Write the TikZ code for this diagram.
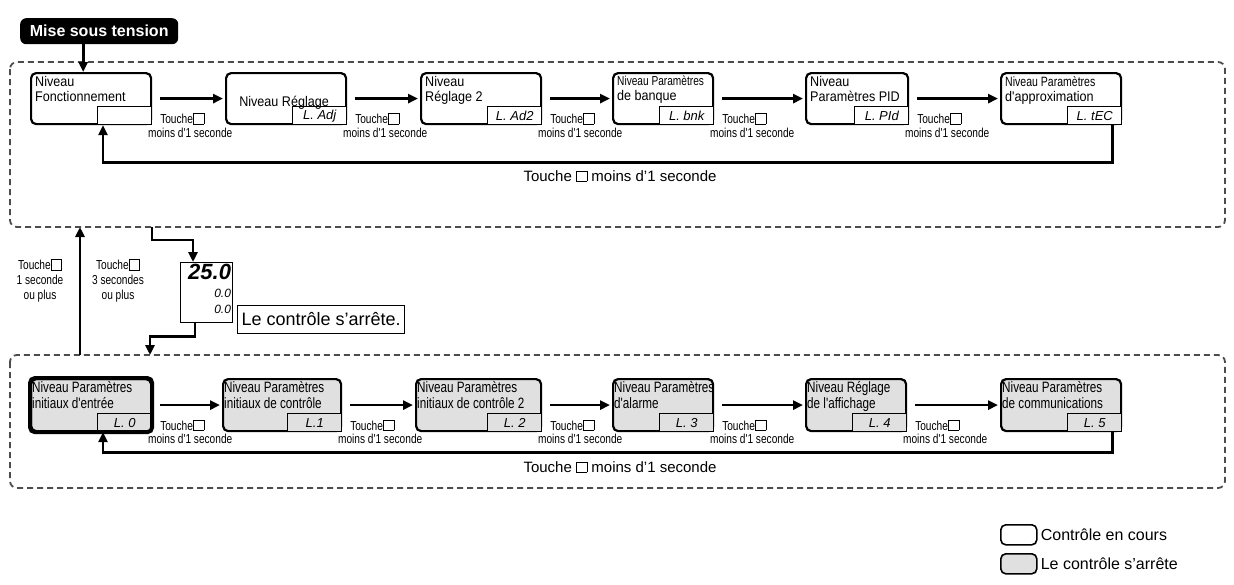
\documentclass[tikz,border=0pt]{standalone}
\usepackage{fontspec}
\setmainfont{Liberation Sans}
\newfontfamily\narrowfont[FakeStretch=0.78]{Liberation Sans}
\newfontfamily\semifont[FakeStretch=0.9]{Liberation Sans}
\usetikzlibrary{arrows.meta}
\newcommand{\keysq}{{\setlength\fboxsep{0pt}\setlength\fboxrule{0.6pt}\fbox{\phantom{\rule{10pt}{10pt}}}}}
\tikzset{
  lvl/.style={draw, line width=2.2pt, rounded corners=5pt, anchor=north west, inner sep=0pt},
  gray lvl/.style={lvl, fill=black!12},
  txt/.style={anchor=north west, align=left, font=\semifont\fontsize{14}{15}\selectfont, inner sep=1pt},
  disp/.style={draw, line width=0.9pt, anchor=south east, minimum width=54pt, minimum height=18pt, inner sep=1pt, font=\itshape\fontsize{13}{13}\selectfont, align=right, fill=white},
  gdisp/.style={disp, fill=black!12},
  arr/.style={line width=2.6pt, -{Triangle[length=10pt,width=9pt]}},
  frame/.style={draw=black!70, dashed, dash pattern=on 6pt off 4pt, line width=1.8pt, rounded corners=7pt},
  small/.style={font=\narrowfont\fontsize{13}{14}\selectfont, inner sep=0pt},
  mid/.style={font=\fontsize{15}{16}\selectfont, inner sep=0pt}
}
\begin{document}
\begin{tikzpicture}[x=1pt,y=-1pt]
\useasboundingbox (0,0) rectangle (1234,584);
% frames
\draw[frame] (10,62) rectangle (1225,227);
\draw[frame] (10,355) rectangle (1225,488);
% power on
\node[fill=black, rounded corners=6pt, text=white, font=\bfseries\fontsize{16}{17}\selectfont, minimum width=158pt, minimum height=26pt, anchor=north west, inner sep=0pt] (pw) at (20,18) {Mise sous tension};
% top row
\foreach \n/\xa/\w/\t/\d in {1/30/120/{Niveau\\Fonctionnement}/{},
  2/225/120/{}/{L. Adj},
  3/420/120/{Niveau\\Réglage 2}/{L. Ad2},
  4/612/100/{\narrowfont\fontsize{13}{14}\selectfont Niveau Paramètres\\de banque}/{L. bnk},
  5/805/102/{Niveau\\Paramètres PID}/{L. PId},
  6/1000/120/{\narrowfont\fontsize{13.5}{14}\selectfont Niveau Paramètres\\d'approximation}/{L. tEC}}{
  \node[lvl, minimum width=\w pt, minimum height=51pt] (t\n) at (\xa,72) {};
  \node[txt] at ([xshift=4pt,yshift=-3pt]t\n.north west) {\t};
  \node[disp] (td\n) at (t\n.south east) {\d};
}
\node[font=\semifont\fontsize{14}{15}\selectfont] at ([xshift=-2pt,yshift=-4pt]t2.center) {Niveau Réglage};
\foreach \a/\b in {1/2,2/3,3/4,4/5,5/6}{
  \draw[arr] ([xshift=8pt]t\a.east) -- ([xshift=-2pt]t\b.west);
  \node[small] (tk\a) at ([xshift=30pt,yshift=-20pt]t\a.east) {Touche\keysq};
  \node[small] (tm\a) at ([xshift=38pt,yshift=-34pt]t\a.east) {moins d'1 seconde};
}
\draw[arr] ([xshift=-16pt]pw.south) -- ([xshift=-16pt]pw.south |- t1.north);
\draw[arr] ([xshift=-10pt]t6.south east) -- ++(0,37) -| ([xshift=73pt]t1.south west);
\node[mid] (fb1) at (620,176) {Touche \keysq\ moins d'1 seconde};
% middle
\node[draw, line width=1.2pt, anchor=north west, minimum width=52pt, minimum height=60pt, inner sep=0pt] (dsp) at (180,262) {};
\node[anchor=north east, font=\itshape\bfseries\fontsize{22}{22}\selectfont, inner sep=1pt] at ([xshift=-1pt,yshift=-1pt]dsp.north east) {25.0};
\node[anchor=north east, font=\itshape\fontsize{12}{12}\selectfont, inner sep=1pt] at ([xshift=-1pt,yshift=-26pt]dsp.north east) {0.0};
\node[anchor=north east, font=\itshape\fontsize{12}{12}\selectfont, inner sep=1pt] at ([xshift=-1pt,yshift=-42pt]dsp.north east) {0.0};
\node[draw, line width=1pt, font=\fontsize{18}{19}\selectfont, anchor=north west, minimum height=28pt, inner sep=4pt] (stop) at (237,305) {Le contrôle s'arrête.};
\coordinate (c1) at (152,227);
\coordinate (c2) at (150,355);
\coordinate (c3) at (80,355);
\coordinate (c4) at (80,227);
\draw[arr] (c1) -- ++(0,13) -| ([xshift=13pt]dsp.north west);
\draw[arr] ([xshift=15pt]dsp.south west) -- ++(0,13) -| (c2);
\draw[arr] (c3) -- (c4);
\node[small, align=center, font=\narrowfont\fontsize{13}{15}\selectfont] at (40,281) {Touche\keysq\\1 seconde\\ou plus};
\node[small, align=center, font=\narrowfont\fontsize{13}{15}\selectfont] at (118,281) {Touche\keysq\\3 secondes\\ou plus};
% bottom row
\foreach \n/\xa/\w/\t/\d in {1/30/120/{Niveau Paramètres\\initiaux d'entrée}/{L. 0},
  2/222/118/{Niveau Paramètres\\initiaux de contrôle}/{L.1},
  3/415/125/{Niveau Paramètres\\initiaux de contrôle 2}/{L. 2},
  4/612/100/{Niveau Paramètres\\d'alarme}/{L. 3},
  5/805/100/{Niveau Réglage\\de l'affichage}/{L. 4},
  6/1000/120/{Niveau Paramètres\\de communications}/{L. 5}}{
  \node[gray lvl, minimum width=\w pt, minimum height=52pt] (b\n) at (\xa,378) {};
  \node[txt, font=\narrowfont\fontsize{15}{16}\selectfont] at ([xshift=1pt,yshift=-2pt]b\n.north west) {\t};
  \node[gdisp] (bd\n) at (b\n.south east) {\d};
}
\draw[line width=4pt, rounded corners=5pt] (b1.north west) rectangle (b1.south east);
\foreach \a/\b in {1/2,2/3,3/4,4/5,5/6}{
  \draw[arr] ([xshift=8pt]b\a.east) -- ([xshift=-2pt]b\b.west);
  \node[small] (bk\a) at ([xshift=30pt,yshift=-20pt]b\a.east) {Touche\keysq};
  \node[small] (bm\a) at ([xshift=38pt,yshift=-34pt]b\a.east) {moins d'1 seconde};
}
\draw[arr] ([xshift=-10pt]b6.south east) -- ++(0,20) -| ([xshift=73pt]b1.south west);
\node[mid] (fb2) at (620,467) {Touche \keysq\ moins d'1 seconde};
% legend
\node[lvl, line width=1.6pt, minimum width=36pt, minimum height=20pt] (lg1) at (1000,524) {};
\node[gray lvl, line width=1.6pt, minimum width=36pt, minimum height=20pt] (lg2) at (1000,553) {};
\node[anchor=west, font=\fontsize{16}{17}\selectfont, inner sep=0pt] at ([xshift=3pt]lg1.east) {Contrôle en cours};
\node[anchor=west, font=\fontsize{16}{17}\selectfont, inner sep=0pt] at ([xshift=3pt]lg2.east) {Le contrôle s'arrête};
\end{tikzpicture}
\end{document}
